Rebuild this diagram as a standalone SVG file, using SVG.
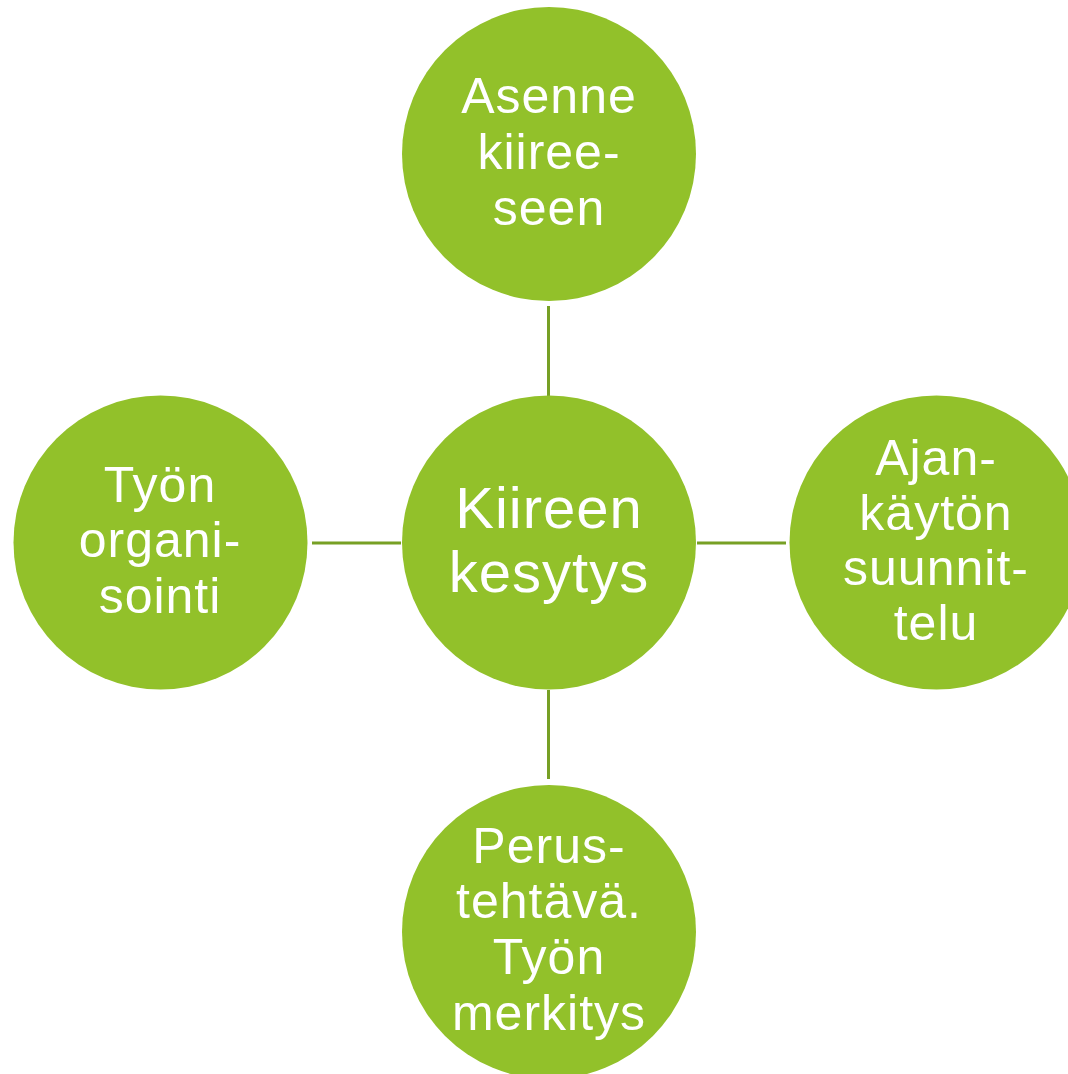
<svg xmlns="http://www.w3.org/2000/svg" width="1068" height="1074" viewBox="0 0 1068 1074">
<style>
.node{fill:#92C12A;}
.lbl{fill:#FFFFFF;font-family:"Liberation Sans",Arial,sans-serif;font-size:50px;text-anchor:middle;letter-spacing:1px;}
.big{font-size:58px;}
.conn{stroke:#77A025;stroke-width:3;fill:none;}
</style>
<rect width="1068" height="1074" fill="#FFFFFF"/>
<g id="connectors">
<line class="conn" x1="548.5" y1="306" x2="548.5" y2="396"/>
<line class="conn" x1="312" y1="543" x2="401" y2="543"/>
<line class="conn" x1="697" y1="543" x2="786" y2="543"/>
<line class="conn" x1="548.5" y1="690" x2="548.5" y2="779"/>
</g>
<g id="center">
<circle class="node" cx="549" cy="542.5" r="147"/>
<text class="lbl big" x="549"><tspan x="549" y="528">Kiireen</tspan><tspan x="549" y="592">kesytys</tspan></text>
</g>
<g id="top">
<circle class="node" cx="549" cy="154" r="147"/>
<text class="lbl" x="549"><tspan x="549" y="113">Asenne</tspan><tspan x="549" y="169">kiiree-</tspan><tspan x="549" y="225">seen</tspan></text>
</g>
<g id="left">
<circle class="node" cx="160.5" cy="542.5" r="147"/>
<text class="lbl" x="160"><tspan x="160" y="502">Työn</tspan><tspan x="160" y="557">organi-</tspan><tspan x="160" y="613">sointi</tspan></text>
</g>
<g id="right">
<circle class="node" cx="936.5" cy="542.5" r="147"/>
<text class="lbl" x="936"><tspan x="936" y="475">Ajan-</tspan><tspan x="936" y="530">käytön</tspan><tspan x="936" y="585">suunnit-</tspan><tspan x="936" y="640">telu</tspan></text>
</g>
<g id="bottom">
<circle class="node" cx="549" cy="932" r="147"/>
<text class="lbl" x="549"><tspan x="549" y="863">Perus-</tspan><tspan x="549" y="918">tehtävä.</tspan><tspan x="549" y="974">Työn</tspan><tspan x="549" y="1030">merkitys</tspan></text>
</g>
</svg>
